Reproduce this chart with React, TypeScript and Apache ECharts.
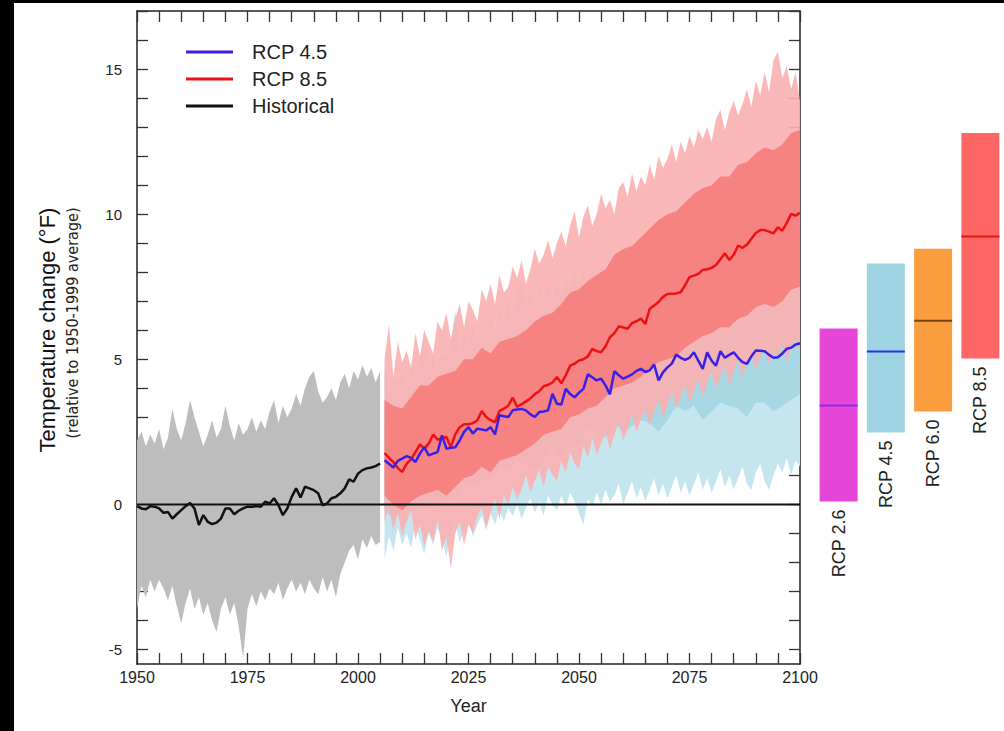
import React, { useEffect, useRef } from 'react';
import * as echarts from 'echarts';

const FONT = '"Liberation Sans", Arial, Helvetica, sans-serif';
const NARROW = '"Liberation Sans Narrow", "DejaVu Sans Condensed", "Liberation Sans", sans-serif';

// ---------- data ----------
const HIST_START = 1950;
const PROJ_START = 2006;
const CORE_STEP = 2;

const histMean = [
  -0.06, -0.14, -0.17, -0.06, -0.08, -0.14, -0.29, -0.26, -0.49, -0.34,
  -0.2, -0.06, 0.05, -0.14, -0.71, -0.37, -0.6, -0.68, -0.63, -0.49,
  -0.14, -0.14, -0.34, -0.22, -0.14, -0.08, -0.08, -0.06, -0.08, 0.09,
  0.03, 0.21, -0.03, -0.37, -0.14, 0.26, 0.55, 0.24, 0.61, 0.55,
  0.49, 0.38, -0.03, 0.03, 0.21, 0.26, 0.38, 0.55, 0.86, 0.78,
  1.06, 1.18, 1.24, 1.27, 1.32, 1.41,
];
const histUpper = [
  2.2, 2.5, 2.0, 2.4, 2.1, 2.6, 1.9, 2.3, 3.3, 2.6,
  2.2, 2.8, 3.6, 3.0, 2.5, 2.0, 2.4, 2.9, 2.3, 2.6,
  3.4, 2.7, 2.2, 2.8, 2.4, 2.6, 3.0, 2.5, 2.9, 2.6,
  3.2, 3.6, 2.8, 3.4, 3.0, 3.3, 3.8, 3.4, 4.0, 4.4,
  4.6, 3.9, 3.5, 3.7, 4.0, 3.6, 4.2, 4.5, 4.0, 4.6,
  4.3, 4.8, 4.4, 4.7, 4.2, 4.6,
];
const histLower = [
  -3.6, -2.8, -3.2, -2.6, -3.0, -2.6, -2.9, -3.3, -2.8, -3.5,
  -4.1, -3.4, -2.9, -3.6, -3.2, -3.8, -3.4, -4.0, -4.4, -3.6,
  -3.2, -3.8, -3.4, -4.2, -5.3, -3.6, -3.1, -3.5, -3.0, -3.3,
  -2.9, -3.1, -2.7, -3.3, -2.9, -2.6, -3.0, -2.7, -3.1, -2.6,
  -2.9, -3.1, -2.5, -3.0, -2.6, -3.2, -2.4, -2.0, -1.6, -1.4,
  -1.9, -1.2, -1.5, -1.1, -1.4, -1.3,
];

const rcp85Mean = [
  1.77, 1.6, 1.46, 1.25, 1.12, 1.4, 1.55, 1.8, 2.07, 1.92,
  2.1, 2.41, 2.23, 2.28, 2.32, 1.97, 2.41, 2.66, 2.76, 2.76,
  2.8, 2.9, 3.22, 3.01, 2.9, 2.83, 3.22, 3.3, 3.4, 3.68,
  3.36, 3.45, 3.55, 3.65, 3.8, 3.9, 4.07, 4.12, 4.2, 4.39,
  4.17, 4.45, 4.78, 4.85, 4.96, 5.0, 5.1, 5.36, 5.28, 5.24,
  5.45, 5.76, 5.9, 6.13, 6.1, 6.05, 6.25, 6.31, 6.4, 6.22,
  6.74, 6.85, 6.97, 7.15, 7.25, 7.26, 7.27, 7.31, 7.55, 7.83,
  7.88, 7.94, 8.08, 8.1, 8.15, 8.25, 8.45, 8.65, 8.42, 8.6,
  8.92, 8.84, 8.95, 9.15, 9.35, 9.45, 9.45, 9.4, 9.34, 9.55,
  9.43, 9.7, 10.01, 9.95, 10.05,
];
const rcp45Mean = [
  1.52, 1.4, 1.27, 1.5, 1.58, 1.66, 1.6, 1.46, 1.75, 1.97,
  1.69, 1.75, 1.8, 2.38, 1.92, 1.95, 1.97, 2.2, 2.5, 2.66,
  2.44, 2.61, 2.58, 2.55, 2.66, 2.41, 3.07, 3.04, 3.01, 3.24,
  3.27, 3.29, 3.24, 3.1, 3.01, 3.18, 3.2, 3.24, 3.81, 3.47,
  3.44, 3.98, 3.8, 3.69, 3.85, 3.98, 4.48, 4.38, 4.27, 4.33,
  4.1, 3.79, 4.59, 4.45, 4.33, 4.4, 4.48, 4.6, 4.67, 4.56,
  4.62, 4.82, 4.27, 4.55, 4.72, 4.85, 5.16, 5.05, 4.98, 5.05,
  5.24, 4.95, 4.67, 5.24, 4.95, 4.78, 5.28, 5.05, 5.15, 5.24,
  5.05, 4.9, 4.84, 5.1, 5.3, 5.29, 5.28, 5.15, 5.05, 5.07,
  5.2, 5.36, 5.4, 5.51, 5.55,
];

const rcp85Upper = [
  5.0, 6.2, 4.4, 5.6, 4.9, 5.3, 4.7, 5.9, 5.1, 6.0,
  5.6, 5.2, 6.3, 6.0, 6.6, 5.7, 6.4, 6.9, 6.1, 7.0,
  6.7, 6.3, 7.4, 7.0, 7.6, 6.9, 7.9, 7.3, 7.5, 8.2,
  7.8, 8.4, 7.6, 8.1, 8.8, 8.3, 8.6, 9.1, 8.5, 9.0,
  9.4, 8.9, 9.6, 10.1, 9.2, 9.9, 10.3, 9.6, 10.0, 10.7,
  10.2, 10.5, 10.0, 10.9, 11.1, 10.6, 11.4, 10.8, 11.3, 11.0,
  11.7, 11.2, 12.0, 11.6, 11.9, 12.4, 11.8, 12.5, 12.1, 12.7,
  12.3, 12.9, 12.6, 13.0, 12.5, 13.3, 13.6, 12.9, 13.5, 13.9,
  13.4, 13.8, 14.3, 13.7, 14.6, 14.1, 14.9, 14.2, 15.3, 15.6,
  14.7, 15.1, 14.3, 14.9, 13.9,
];
const rcp85Lower = [
  -0.6, -0.1, -0.9, -0.3, -1.1, -0.6, -0.2, -1.2, -0.7, -1.4,
  -0.9, -1.3, -0.5, -1.6, -1.1, -2.2, -1.0, -0.6, -1.4, -0.7,
  -1.0, -0.4, -0.1, -0.8, -0.3, 0.2, -0.5, 0.3, 0.0, 0.6,
  0.2, 0.5, 1.0, 0.4, 0.8, 1.2, 0.6, 1.3, 1.0, 0.8,
  1.5, 1.1, 1.8, 1.4, 1.2, 2.0, 1.6, 2.3, 1.7, 2.1,
  2.5, 1.9, 2.4, 2.8, 2.2, 2.6, 3.1, 2.5, 2.9, 3.3,
  2.7, 3.2, 3.6, 3.0, 3.4, 3.9, 3.3, 3.7, 4.1, 3.5,
  3.9, 4.3, 3.7, 4.2, 4.6, 4.0, 4.4, 4.8, 4.1, 4.6,
  5.0, 4.4, 4.9, 5.2, 4.6, 5.1, 5.4, 4.8, 5.3, 5.0,
  5.5, 4.9, 5.4, 5.7, 5.2,
];
const rcp85CoreUpper = [
  3.6, 3.4, 3.3, 3.7, 4.1, 4.1, 4.4, 4.5, 4.6, 5.0,
  5.0, 5.4, 5.2, 5.6, 5.7, 5.8, 6.0, 6.3, 6.5, 6.6,
  6.9, 7.3, 7.4, 7.7, 7.9, 8.1, 8.6, 8.8, 8.9, 9.2,
  9.5, 9.8, 10.0, 10.1, 10.4, 10.7, 10.9, 11.0, 11.3, 11.3,
  11.7, 11.8, 12.1, 12.3, 12.2, 12.4, 12.8, 12.9,
];
const rcp85CoreLower = [
  0.3, 0.0, -0.2, 0.1, 0.3, 0.4, 0.5, 0.3, 0.6, 0.9,
  1.0, 1.3, 1.1, 1.5, 1.6, 1.7, 1.9, 2.1, 2.4, 2.5,
  2.6, 3.0, 3.1, 3.3, 3.4, 3.7, 4.0, 4.1, 4.2, 4.4,
  4.7, 4.9, 5.0, 5.1, 5.4, 5.6, 5.8, 5.9, 6.1, 6.1,
  6.4, 6.5, 6.8, 6.9, 6.8, 7.0, 7.4, 7.5,
];

const rcp45Upper = [
  4.6, 3.8, 4.3, 4.0, 4.6, 4.1, 4.9, 4.4, 5.0, 6.0,
  4.7, 5.2, 4.6, 5.4, 5.0, 5.6, 6.7, 5.1, 5.9, 5.5,
  6.1, 5.7, 6.3, 5.9, 6.5, 6.0, 6.7, 6.3, 6.9, 6.4,
  7.1, 7.7, 6.8, 7.3, 6.9, 7.4, 7.0, 7.6, 7.2, 7.7,
  7.2, 7.8, 7.4, 8.0, 7.5, 8.1, 7.6, 8.2, 7.8, 8.3,
  7.9, 8.4, 8.0, 8.5, 8.1, 8.6, 8.2, 8.7, 8.3, 8.8,
  8.4, 8.9, 8.5, 9.0, 8.6, 9.1, 8.7, 9.2, 8.8, 9.3,
  8.9, 9.4, 9.0, 9.5, 9.1, 9.6, 9.2, 9.7, 9.3, 9.8,
  9.4, 9.9, 9.5, 10.0, 9.6, 10.1, 9.7, 10.2, 9.8, 10.3,
  9.9, 10.4, 10.0, 10.5, 10.1,
];
const rcp45Lower = [
  -1.9, -1.1, -1.6, -0.8, -1.4, -1.0, -1.5, -0.7, -1.2, -1.7,
  -1.0, -1.4, -0.8, -1.2, -1.8, -1.0, -0.6, -1.3, -0.9, -0.5,
  -1.1, -0.7, -0.4, -0.9, -0.3, -0.7, -0.2, -0.6, -0.1, -0.4,
  0.0, -0.5, -0.1, 0.2, -0.3, 0.1, -0.4, 0.3, 0.0, -0.2,
  0.3, -0.1, 0.4, 0.1, -0.3, -0.7, 0.2, -0.1, 0.4, 0.0,
  0.5, 0.1, 0.3, 0.7, 0.0, 0.4, 0.8, 0.2, 0.6, 0.1,
  0.5, 0.9, 0.3, 0.7, 0.2, 0.6, 1.0, 0.4, 0.8, 0.3,
  0.7, 1.1, 0.5, 0.9, 0.4, 0.8, 1.2, 0.6, 1.0, 0.5,
  0.9, 1.3, 0.7, 0.5, 1.1, 1.4, 0.8, 0.5, 1.0, 1.4,
  1.1, 1.6, 1.0, 1.5, 1.3,
];
const rcp45CoreUpper = [
  3.2, 3.0, 3.3, 3.4, 3.5, 3.6, 3.7, 3.8, 3.9, 4.3,
  4.3, 4.4, 4.5, 4.8, 4.9, 5.1, 5.1, 4.9, 5.1, 5.5,
  5.4, 5.7, 5.8, 6.3, 6.2, 6.0, 6.5, 6.3, 6.4, 6.6,
  6.6, 6.3, 6.8, 7.1, 7.0, 7.2, 6.8, 7.0, 7.3, 7.2,
  7.1, 6.9, 7.4, 7.3, 7.1, 7.3, 7.5, 7.6,
];
const rcp45CoreLower = [
  -0.2, -0.5, -0.2, -0.2, -0.1, -0.1, 0.0, 0.1, 0.2, 0.7,
  0.6, 0.8, 0.9, 1.3, 1.2, 1.5, 1.4, 1.2, 1.4, 2.0,
  1.6, 2.0, 2.0, 2.7, 2.5, 2.3, 2.8, 2.5, 2.7, 2.9,
  2.8, 2.5, 2.9, 3.4, 3.2, 3.4, 2.9, 3.2, 3.5, 3.4,
  3.3, 3.0, 3.5, 3.5, 3.2, 3.4, 3.6, 3.8,
];

// 2081-2100 ranges (right-hand boxes)
const scenarios = ['RCP 2.6', 'RCP 4.5', 'RCP 6.0', 'RCP 8.5'];
const rangeLow = [0.1, 2.48, 3.2, 5.03];
const rangeHigh = [6.06, 8.3, 8.81, 12.8];
const rangeMedian = [3.41, 5.27, 6.33, 9.23];
const boxColors = ['#E646D8', '#9FD4E2', '#FA9D3E', '#FF6666'];
const medianColors = ['#8E2BE0', '#2B2BE8', '#7A4410', '#E81414'];

const xTickLabels = [1950, 1975, 2000, 2025, 2050, 2075, 2100];
const yTicks = [-5, -4, -3, -2, -1, 0, 1, 2, 3, 4, 5, 6, 7, 8, 9, 10, 11, 12, 13, 14, 15, 16, 17];
const yTickLabels = [-5, 0, 5, 10, 15];

// ---------- helpers ----------
const toPairs = (start: number, vals: number[], step = 1) => vals.map((v, i) => [start + i * step, v]);

function band(start: number, step: number, upper: number[], lower: number[], fill: string, opacity: number, z: number) {
  return {
    type: 'custom',
    xAxisIndex: 0,
    yAxisIndex: 0,
    silent: true,
    clip: true,
    z,
    data: [[start, upper[0]]],
    renderItem: (_p: any, api: any) => {
      const pts: number[][] = [];
      for (let i = 0; i < upper.length; i++) pts.push(api.coord([start + i * step, upper[i]]));
      for (let i = lower.length - 1; i >= 0; i--) pts.push(api.coord([start + i * step, lower[i]]));
      return { type: 'polygon', shape: { points: pts }, style: { fill, opacity } };
    },
  };
}

const axisCommon = {
  axisLine: { show: true, onZero: false, lineStyle: { color: '#222', width: 1.5 } },
  axisTick: { show: true, inside: true, length: 11, lineStyle: { color: '#333', width: 1.3 } },
  splitLine: { show: false },
};

export default function App() {
  const ref = useRef<HTMLDivElement>(null);
  useEffect(() => {
    if (!ref.current) return;
    const chart = echarts.init(ref.current, undefined, { renderer: 'svg' });
    const option: any = {
      animation: false,
      backgroundColor: '#ffffff',
      grid: [
        { left: 137, top: 11, width: 663, height: 653 },
        { left: 815, top: 11, width: 189, height: 653 },
      ],
      legend: {
        data: ['RCP 4.5', 'RCP 8.5', 'Historical'],
        orient: 'vertical',
        left: 186,
        top: 41,
        padding: 0,
        icon: 'rect',
        itemWidth: 47,
        itemHeight: 3,
        itemGap: 5,
        selectedMode: false,
        textStyle: { fontSize: 20, color: '#222', fontFamily: FONT, lineHeight: 22, padding: [0, 0, 0, 14] },
      },
      xAxis: [
        {
          type: 'value', gridIndex: 0, min: 1950, max: 2100, interval: 5, position: 'bottom',
          ...axisCommon,
          axisLabel: {
            customValues: xTickLabels, fontSize: 16, color: '#222', fontFamily: FONT, margin: 5,
            formatter: (v: number) => String(v),
          },
          name: 'Year', nameLocation: 'middle', nameGap: 33,
          nameTextStyle: { fontSize: 18, color: '#222', fontFamily: FONT },
        },
        {
          type: 'value', gridIndex: 0, min: 1950, max: 2100, interval: 5, position: 'top',
          ...axisCommon, axisLabel: { show: false },
        },
        { type: 'category', gridIndex: 1, data: scenarios, show: false },
      ],
      yAxis: [
        {
          type: 'value', gridIndex: 0, min: -5.5, max: 17, position: 'left',
          ...axisCommon,
          axisTick: { ...axisCommon.axisTick, customValues: yTicks },
          axisLabel: { customValues: yTickLabels, fontSize: 15, color: '#222', fontFamily: FONT, margin: 15 },
        },
        {
          type: 'value', gridIndex: 0, min: -5.5, max: 17, position: 'right',
          ...axisCommon,
          axisTick: { ...axisCommon.axisTick, customValues: yTicks },
          axisLabel: { show: false },
        },
        { type: 'value', gridIndex: 1, min: -5.5, max: 17, show: false },
      ],
      series: [
        band(HIST_START, 1, histUpper, histLower, '#BDBDBD', 1, 1),
        band(PROJ_START, 1, rcp45Upper, rcp45Lower, '#C6E6EF', 1, 2),
        band(PROJ_START, CORE_STEP, rcp45CoreUpper, rcp45CoreLower, '#A9D8E5', 1, 2),
        band(PROJ_START, 1, rcp85Upper, rcp85Lower, '#FBB0B0', 0.9, 3),
        band(PROJ_START, CORE_STEP, rcp85CoreUpper, rcp85CoreLower, '#F67C7C', 0.9, 3),
        {
          type: 'line', name: 'zero', xAxisIndex: 0, yAxisIndex: 0, silent: true, z: 5,
          data: [[1950, 0], [2100, 0]], symbol: 'none',
          lineStyle: { color: '#111', width: 2 },
        },
        {
          type: 'line', name: 'Historical', xAxisIndex: 0, yAxisIndex: 0, z: 10,
          data: toPairs(HIST_START, histMean), symbol: 'none', color: '#111',
          lineStyle: { color: '#111', width: 2.5 },
        },
        {
          type: 'line', name: 'RCP 8.5', xAxisIndex: 0, yAxisIndex: 0, z: 10,
          data: toPairs(PROJ_START, rcp85Mean), symbol: 'none', color: '#EE1111',
          lineStyle: { color: '#EE1111', width: 2.5 },
        },
        {
          type: 'line', name: 'RCP 4.5', xAxisIndex: 0, yAxisIndex: 0, z: 11,
          data: toPairs(PROJ_START, rcp45Mean), symbol: 'none', color: '#3A20E6',
          lineStyle: { color: '#3A20E6', width: 2.5 },
        },
        {
          type: 'custom', name: 'ranges', xAxisIndex: 2, yAxisIndex: 2, clip: false, silent: true,
          data: scenarios.map((_, i) => [i, rangeLow[i], rangeHigh[i], rangeMedian[i]]),
          encode: { x: 0, y: [1, 2, 3] },
          renderItem: (_p: any, api: any) => {
            const i = api.value(0);
            const top = api.coord([i, api.value(2)]);
            const bot = api.coord([i, api.value(1)]);
            const mid = api.coord([i, api.value(3)]);
            const w = 38;
            return {
              type: 'group',
              children: [
                { type: 'rect', shape: { x: top[0] - w / 2, y: top[1], width: w, height: bot[1] - top[1] }, style: { fill: boxColors[i] } },
                { type: 'line', shape: { x1: top[0] - w / 2, y1: mid[1], x2: top[0] + w / 2, y2: mid[1] }, style: { stroke: medianColors[i], lineWidth: 2 } },
                {
                  type: 'text', x: top[0], y: bot[1] + 8, rotation: Math.PI / 2,
                  style: { text: scenarios[i], align: 'right', verticalAlign: 'middle', fontSize: 18, fill: '#222', fontFamily: FONT },
                },
              ],
            };
          },
        },
      ],
      graphic: [
        { type: 'rect', left: 0, top: 0, shape: { width: 14, height: 731 }, style: { fill: '#000' }, z: 100 },
        { type: 'rect', left: 0, top: 0, shape: { width: 1004, height: 3 }, style: { fill: '#000' }, z: 100 },
        {
          type: 'text', x: 47, y: 330, rotation: Math.PI / 2,
          style: { text: 'Temperature change (°F)', align: 'center', verticalAlign: 'middle', fontSize: 22, fill: '#111', fontFamily: FONT },
        },
        {
          type: 'text', x: 72, y: 323, rotation: Math.PI / 2,
          style: { text: '(relative to 1950-1999 average)', align: 'center', verticalAlign: 'middle', fontSize: 16, fill: '#222', fontFamily: NARROW },
        },
      ],
    };
    chart.setOption(option);
    return () => chart.dispose();
  }, []);
  return <div ref={ref} style={{ position: 'fixed', left: 0, top: 0, width: 1004, height: 731 }} />;
}
